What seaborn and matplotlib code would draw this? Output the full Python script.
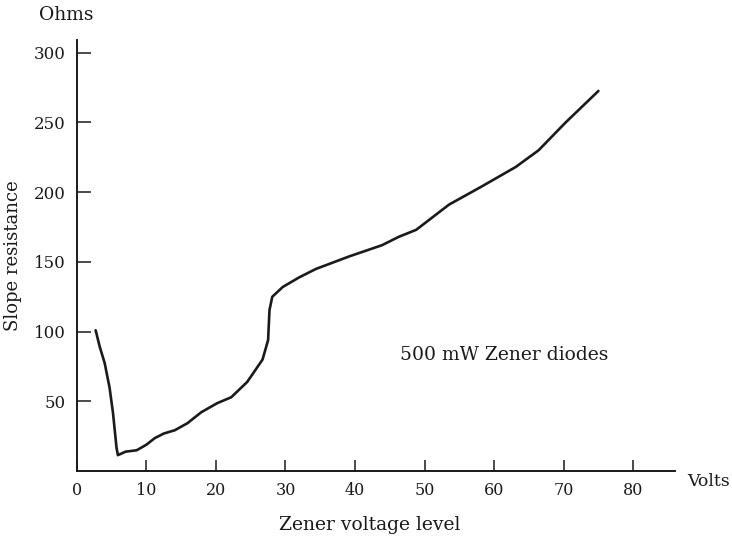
import pandas as pd
import seaborn as sns
import matplotlib
matplotlib.use("Agg")
import matplotlib.pyplot as plt

# values
volts = [2.7, 3.3, 4.0, 4.7, 5.2, 5.7, 5.9, 7.0, 8.6, 10.0, 11.2, 12.5, 14.1,
         15.9, 17.9, 20.2, 22.2, 24.5, 26.7, 27.5, 27.7, 28.1, 29.6, 32.0,
         34.4, 39.2, 43.9, 46.3, 48.8, 53.5, 58.2, 63.1, 66.4, 70.3, 72.6, 75.0]
ohms = [101, 89, 77.5, 60, 41.6, 17, 11.5, 14, 15, 19, 23.7, 27, 29.4,
        34.4, 42.3, 48.8, 53, 64, 80, 94, 115.5, 125, 132, 139,
        145, 154, 162, 168, 173, 191, 204, 218, 230, 250, 261, 272.5]

x_ticks = [0, 10, 20, 30, 40, 50, 60, 70, 80]
y_ticks = [50, 100, 150, 200, 250, 300]

df = pd.DataFrame({"volts": volts, "ohms": ohms})

sns.set_style("ticks")
plt.rcParams["font.family"] = ["DejaVu Serif"]

fig = plt.figure(figsize=(7.32, 5.41), dpi=100)
ax = fig.add_axes([0.105, 0.129, 0.817, 0.797])

line_col = "#1a1a1a"
sns.lineplot(data=df, x="volts", y="ohms", ax=ax, color=line_col,
             linewidth=1.9, sort=False, solid_joinstyle="round")

ax.set_xlim(0, 86)
ax.set_ylim(0, 309)
ax.set_xticks(x_ticks)
ax.set_yticks(y_ticks)
ax.tick_params(axis="x", direction="in", length=8, width=1.1, pad=8,
               labelsize=11.5, colors=line_col)
ax.tick_params(axis="y", direction="in", length=10, width=1.1, pad=8,
               labelsize=12, colors=line_col)

for side in ["top", "right"]:
    ax.spines[side].set_visible(False)
for side in ["left", "bottom"]:
    ax.spines[side].set_color(line_col)
    ax.spines[side].set_linewidth(1.4)

ax.set_xlabel("Zener voltage level", fontsize=13.5, color=line_col)
ax.set_ylabel("Slope resistance", fontsize=13, color=line_col)
ax.xaxis.set_label_coords(0.49, -0.105)
ax.yaxis.set_label_coords(-0.092, 0.5)

fig.text(66 / 732, 1 - 15 / 541, "Ohms", ha="center", va="center",
         fontsize=13.5, color=line_col)
fig.text(687 / 732, 1 - 481 / 541, "Volts", ha="left", va="center",
         fontsize=12.5, color=line_col)
ax.text(46.5, 83, "500 mW Zener diodes", ha="left", va="center",
        fontsize=13.5, color=line_col)

fig.savefig("out.png", dpi=100, facecolor="white")
